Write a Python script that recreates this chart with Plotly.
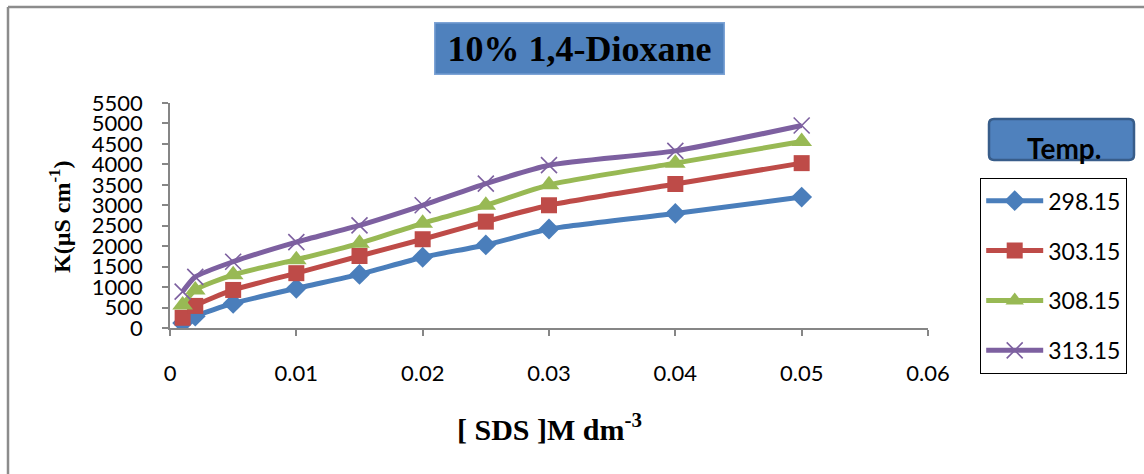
import plotly.graph_objects as go

# SDS concentration (M dm^-3)
sds_conc = [0.001, 0.002, 0.005, 0.01, 0.015, 0.02, 0.025, 0.03, 0.04, 0.05]

# Specific conductance K (µS cm^-1) at each temperature (K)
temps = ["298.15", "303.15", "308.15", "313.15"]
k_298 = [120, 290, 600, 970, 1310, 1730, 2030, 2420, 2800, 3200]
k_303 = [250, 540, 930, 1340, 1760, 2170, 2600, 3000, 3520, 4030]
k_308 = [560, 930, 1300, 1670, 2070, 2560, 3000, 3500, 4030, 4560]
k_313 = [890, 1250, 1620, 2100, 2510, 3000, 3530, 3980, 4330, 4950]

x_ticks = [0, 0.01, 0.02, 0.03, 0.04, 0.05, 0.06]
y_ticks = list(range(0, 5501, 500))

W, H = 1144, 474
L, R, T, B = 170, 216, 103, 146
PW, PH = W - L - R, H - T - B


def px(x):
    return (x - L) / PW


def py(y):
    return (H - B - y) / PH


series = [
    (k_298, "#4A7EBB", "diamond", 16, None),
    (k_303, "#BE4B48", "square", 16, None),
    (k_308, "#98B954", "triangle-up", 18, None),
    (k_313, "#7D60A0", "x-thin", 16, "#7D60A0"),
]

fig = go.Figure()
for name, (vals, color, sym, size, lcol) in zip(temps, series):
    marker = dict(symbol=sym, size=size, color=color)
    if lcol:
        marker["line"] = dict(color=lcol, width=1.6)
    else:
        marker["line"] = dict(width=0)
    fig.add_trace(go.Scatter(
        x=sds_conc, y=vals, name=name, mode="lines+markers",
        legendgroup=name,
        line=dict(color=color, width=5, shape="spline", smoothing=0.6),
        marker=marker,
    ))

axis_common = dict(
    showline=True, linecolor="#868686", linewidth=1.5,
    ticks="outside", ticklen=6, tickcolor="#868686", tickwidth=1.5,
    showgrid=False, zeroline=False,
    tickfont=dict(family="Lato", size=22, color="black"),
)

fig.update_xaxes(range=[0, 0.06], tickvals=x_ticks,
                 ticktext=[f"{v:g}" for v in x_ticks],
                 ticklabelstandoff=19, **axis_common)
fig.update_yaxes(range=[0, 5500], tickvals=y_ticks,
                 ticktext=[str(v) for v in y_ticks],
                 ticklabelstandoff=15, **axis_common)

shapes = [
    # chart frame (top and left edges)
    dict(type="line", xref="paper", yref="paper", x0=px(8), x1=px(1200),
         y0=py(7), y1=py(7), line=dict(color="#8C8C8C", width=2.5)),
    dict(type="line", xref="paper", yref="paper", x0=px(8), x1=px(8),
         y0=py(7), y1=py(520), line=dict(color="#8C8C8C", width=2.5)),
]

# rounded box behind the legend heading
x0, x1, y0, y1, r = 989, 1134, 119, 160, 5
path = (f"M {px(x0 + r)},{py(y0)} L {px(x1 - r)},{py(y0)} "
        f"Q {px(x1)},{py(y0)} {px(x1)},{py(y0 + r)} L {px(x1)},{py(y1 - r)} "
        f"Q {px(x1)},{py(y1)} {px(x1 - r)},{py(y1)} L {px(x0 + r)},{py(y1)} "
        f"Q {px(x0)},{py(y1)} {px(x0)},{py(y1 - r)} L {px(x0)},{py(y0 + r)} "
        f"Q {px(x0)},{py(y0)} {px(x0 + r)},{py(y0)} Z")
shapes.append(dict(type="path", xref="paper", yref="paper", path=path,
                   fillcolor="#4F81BD", line=dict(color="#385D8A", width=2.5)))

annotations = [
    dict(text="<b>10% 1,4-Dioxane</b>", xref="paper", yref="paper",
         x=px(579), y=py(48.5), xanchor="center", yanchor="middle",
         showarrow=False, width=288, height=50, bgcolor="#4F81BD",
         bordercolor="#7EA4D6", borderwidth=1.5, borderpad=0,
         font=dict(family="Liberation Serif", size=36, color="black")),
    dict(text="<b>Temp.</b>", xref="paper", yref="paper",
         x=px(1064), y=py(148), xanchor="center", yanchor="middle",
         showarrow=False,
         font=dict(family="Lato", size=28, color="black")),
    dict(text="<b>K(µS cm<sup>-1</sup>)</b>", xref="paper", yref="paper",
         x=px(60), y=py(217), xanchor="center", yanchor="middle",
         textangle=-90, showarrow=False,
         font=dict(family="Liberation Serif", size=24, color="black")),
    dict(text="<b>[ SDS ]M dm<sup>-3</sup></b>", xref="paper", yref="paper",
         x=px(549), y=py(427), xanchor="center", yanchor="middle",
         showarrow=False,
         font=dict(family="Liberation Serif", size=30, color="black")),
]

fig.update_layout(
    width=W, height=H, autosize=False,
    margin=dict(l=L, r=R, t=T, b=B, pad=0),
    paper_bgcolor="white", plot_bgcolor="white",
    shapes=shapes, annotations=annotations,
    showlegend=True,
    legend=dict(x=px(980), y=py(178), xanchor="left", yanchor="top",
                xref="paper", yref="paper",
                bordercolor="black", borderwidth=1.2, bgcolor="white",
                font=dict(family="Lato", size=23, color="black"),
                tracegroupgap=17, itemwidth=57, traceorder="grouped",
                entrywidth=119, entrywidthmode="pixels"),
)

fig.write_html("out.html")
